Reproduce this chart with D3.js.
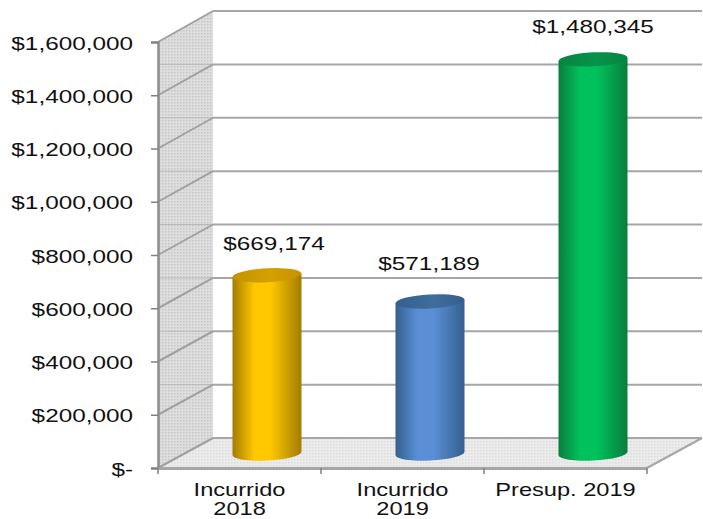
<!DOCTYPE html>
<html>
<head>
<meta charset="utf-8" />
<script src="https://d3js.org/d3.v7.min.js"></script>
<style>
  html, body { margin: 0; padding: 0; background: #fff; overflow: hidden; }
  text { font-family: "Liberation Sans", Arial, sans-serif; fill: #111; }
</style>
</head>
<body>
<div id="mydata"></div>
<script>
  const categories = [['Incurrido', '2018'], ['Incurrido', '2019'], ['Presup. 2019']];
  const values = [669174, 571189, 1480345];
  const valueLabels = ['$669,174', '$571,189', '$1,480,345'];
  const yTicks = [0, 200000, 400000, 600000, 800000, 1000000, 1200000, 1400000, 1600000];

  const palettes = [
    { edge: '#a37c00', mid: '#ffc800', top: '#c39200', topLight: '#d6a000' },
    { edge: '#35608f', mid: '#5a8fd6', top: '#34608f', topLight: '#3f6d9c' },
    { edge: '#0a7d3e', mid: '#00c25c', top: '#078540', topLight: '#07934a' },
  ];

  const width = 703, height = 519;
  const front = { left: 158, right: 647, bottom: 468, top: 42 };
  const depth = { x: 55, y: 30 };
  const textStretch = 1.39;
  const labelShift = [[7, -31], [-1, -38], [0, -32]];

  const svg = d3.select('#mydata').append('svg')
    .attr('width', width).attr('height', height).style('display', 'block');
  const defs = svg.append('defs');

  function dots(id, bg, dot) {
    const p = defs.append('pattern').attr('id', id)
      .attr('width', 3).attr('height', 3).attr('patternUnits', 'userSpaceOnUse');
    p.append('rect').attr('width', 3).attr('height', 3).attr('fill', bg);
    p.append('rect').attr('width', 1.5).attr('height', 1.5).attr('fill', dot);
  }
  dots('wallDots', '#dedede', '#c6c6c6');
  dots('floorDots', '#ececec', '#dcdcdc');

  const x = d3.scaleBand().domain(d3.range(categories.length)).range([front.left, front.right]);
  const y = d3.scaleLinear().domain([0, 1600000]).range([front.bottom, front.top]);
  const yBack = d3.scaleLinear().domain([0, 1600000]).range([front.bottom - depth.y, 11]);
  // cylinders stand half way into the floor
  const yBar = d3.scaleLinear().domain([0, 1600000]).range([453.5, 27.5]);

  const backLeft = front.left + depth.x;
  const line = d3.line();

  // side wall and floor
  svg.append('path')
    .attr('d', line([[front.left, y(1600000)], [backLeft, yBack(1600000)], [backLeft, yBack(0)], [front.left, y(0)]]) + 'Z')
    .attr('fill', 'url(#wallDots)');
  svg.append('path')
    .attr('d', line([[front.left, y(0)], [backLeft, yBack(0)], [front.right + depth.x, yBack(0)], [front.right, y(0)]]) + 'Z')
    .attr('fill', 'url(#floorDots)');

  // faint lines on the side wall
  svg.append('g').selectAll('line').data(yTicks.slice(1, -1)).join('line')
    .attr('x1', front.left).attr('x2', backLeft)
    .attr('y1', (d) => yBack(d)).attr('y2', (d) => yBack(d))
    .attr('stroke', '#b8b8b8').attr('stroke-width', 1);

  // grid on back wall
  svg.append('g').selectAll('line').data(yTicks).join('line')
    .attr('x1', backLeft).attr('x2', front.right + depth.x)
    .attr('y1', (d) => yBack(d)).attr('y2', (d) => yBack(d))
    .attr('stroke', '#a6a6a6').attr('stroke-width', 2);

  // grid on side wall
  svg.append('g').selectAll('line').data(yTicks).join('line')
    .attr('x1', front.left).attr('x2', backLeft)
    .attr('y1', (d) => y(d)).attr('y2', (d) => yBack(d))
    .attr('stroke', '#a0a0a0').attr('stroke-width', 2);

  // floor right edge
  svg.append('line')
    .attr('x1', front.right).attr('y1', y(0))
    .attr('x2', front.right + depth.x).attr('y2', yBack(0))
    .attr('stroke', '#a6a6a6').attr('stroke-width', 2);

  // cylinders
  const rx = 34.5, ry = 7, tilt = 3;
  const dy = rx * Math.sin(tilt * Math.PI / 180);

  palettes.forEach((c, i) => {
    const g = defs.append('linearGradient').attr('id', 'body' + i);
    [[0, c.edge], [0.32, c.mid], [0.55, c.mid], [1, c.edge]].forEach((s) => {
      g.append('stop').attr('offset', s[0]).attr('stop-color', s[1]);
    });
    const t = defs.append('linearGradient').attr('id', 'top' + i);
    [[0, c.top], [0.55, c.topLight], [1, c.top]].forEach((s) => {
      t.append('stop').attr('offset', s[0]).attr('stop-color', s[1]);
    });
  });

  const bars = svg.append('g').selectAll('g').data(values).join('g');
  const cx = (i) => x(i) + x.bandwidth() / 2 + depth.x / 2;

  bars.append('path')
    .attr('fill', (d, i) => `url(#body${i})`)
    .attr('d', (d, i) => {
      const l = cx(i) - rx, r = cx(i) + rx, t = yBar(d), b = yBar(0);
      return `M${l},${t + dy} L${l},${b + dy} A${rx},${ry} ${-tilt} 0 0 ${r},${b - dy} L${r},${t - dy} Z`;
    });
  bars.append('ellipse')
    .attr('fill', (d, i) => `url(#top${i})`)
    .attr('cx', (d, i) => cx(i)).attr('cy', (d) => yBar(d))
    .attr('rx', rx).attr('ry', ry)
    .attr('transform', (d, i) => `rotate(${-tilt} ${cx(i)} ${yBar(d)})`);

  // value labels
  svg.append('g').selectAll('text').data(valueLabels).join('text')
    .attr('transform', (d, i) => `translate(${cx(i) + labelShift[i][0]},${yBar(values[i]) + labelShift[i][1]}) scale(${textStretch},1)`)
    .attr('text-anchor', 'middle').attr('dy', '0.35em')
    .attr('font-size', 17.5)
    .text((d) => d);

  // axes
  const yAxis = svg.append('g')
    .attr('transform', `translate(${front.left},0)`)
    .call(d3.axisLeft(y).tickValues(yTicks).tickSize(7)
      .tickFormat((d) => (d === 0 ? '$-' : d3.format('$,')(d))));
  yAxis.selectAll('line').attr('stroke', '#808080').attr('stroke-width', 1.5);
  yAxis.select('.domain').attr('stroke', '#8c8c8c').attr('stroke-width', 2.5);
  yAxis.selectAll('text')
    .attr('font-size', 17.5).attr('font-family', '"Liberation Sans", Arial, sans-serif')
    .attr('x', -18).attr('y', 1.5).attr('transform', `scale(${textStretch},1)`);

  const xAxis = svg.append('g')
    .attr('transform', `translate(0,${front.bottom})`)
    .call(d3.axisBottom(x).tickValues([]).tickSizeOuter(0));
  xAxis.select('.domain').attr('stroke', '#a6a6a6').attr('stroke-width', 3);
  xAxis.selectAll('.cat-tick').data(d3.range(categories.length + 1)).join('line')
    .attr('x1', (d) => front.left + d * x.bandwidth()).attr('x2', (d) => front.left + d * x.bandwidth())
    .attr('y1', 0).attr('y2', 6)
    .attr('stroke', '#808080').attr('stroke-width', 1.5);

  const catLabels = xAxis.selectAll('.cat').data(categories).join('text')
    .attr('transform', (d, i) => `translate(${x(i) + x.bandwidth() / 2},22) scale(${textStretch - 0.04},1)`)
    .attr('text-anchor', 'middle').attr('font-size', 17.5);
  catLabels.selectAll('tspan').data((d) => d).join('tspan')
    .attr('x', 0).attr('dy', (d, i) => (i === 0 ? 6 : 19.5))
    .text((d) => d);
</script>
</body>
</html>
